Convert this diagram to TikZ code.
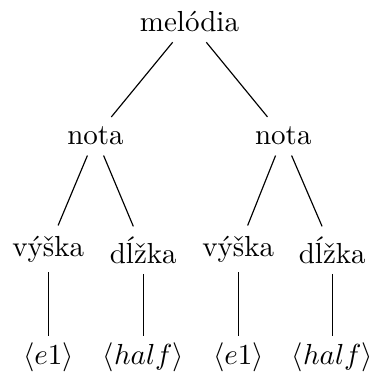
\documentclass[tikz,border=0pt]{standalone}
\usepackage{fontspec}
\begin{document}
% Syntax tree of a melody: coordinates are in a unit of 1/2.9 pt, y grows downward
\begin{tikzpicture}[x=0.3448pt, y=-0.3448pt,
  treenode/.style={anchor=base, inner sep=3.33pt},
  leafnode/.style={treenode, text height=6pt},
  branch/.style={draw, line width=0.4pt}]
\useasboundingbox (0,0) rectangle (371,376);

\node[treenode] (root) at (189.5,31.7) {melódia};

\node[treenode] (notaL) at (95.5,145) {nota};
\node[treenode] (notaR) at (283.3,145) {nota};

\node[treenode] (vyskaL) at (48.3,256) {výška};
\node[treenode] (dlzkaL) at (143.3,263.3) {dĺžka};
\node[treenode] (vyskaR) at (238.3,256) {výška};
\node[treenode] (dlzkaR) at (332.3,263.3) {dĺžka};

\node[leafnode] (leafA) at (48.3,364) {$\langle e1\rangle$};
\node[leafnode] (leafB) at (143.3,364) {$\langle half\rangle$};
\node[leafnode] (leafC) at (238.3,364) {$\langle e1\rangle$};
\node[leafnode] (leafD) at (332.3,364) {$\langle half\rangle$};

\draw[branch] (root) -- (notaL);
\draw[branch] (root) -- (notaR);
\draw[branch] (notaL) -- (vyskaL);
\draw[branch] (notaL) -- (dlzkaL);
\draw[branch] (notaR) -- (vyskaR);
\draw[branch] (notaR) -- (dlzkaR);
\draw[branch] (vyskaL) -- (leafA);
\draw[branch] (dlzkaL) -- (leafB);
\draw[branch] (vyskaR) -- (leafC);
\draw[branch] (dlzkaR) -- (leafD);
\end{tikzpicture}
\end{document}
